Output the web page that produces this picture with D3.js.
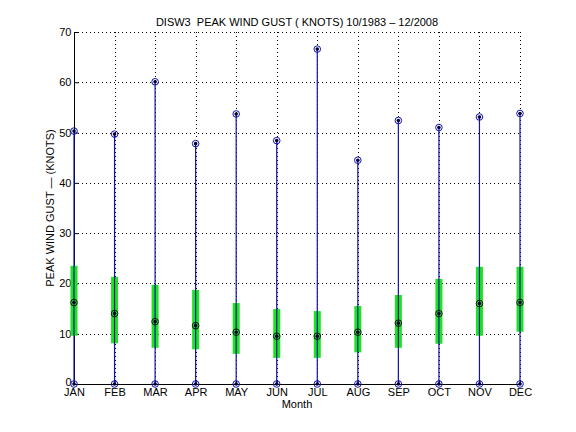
<!DOCTYPE html>
<html>
<head>
<meta charset="utf-8">
<script src="https://cdn.jsdelivr.net/npm/d3@7"></script>
<style>
  html, body { margin: 0; padding: 0; background: #fff; }
  svg { display: block; font-family: "Liberation Sans", Arial, sans-serif; }
</style>
</head>
<body>
<svg id="chart" width="576" height="432"></svg>
<script>
// monthly peak gust statistics, knots
var months = ["JAN", "FEB", "MAR", "APR", "MAY", "JUN", "JUL", "AUG", "SEP", "OCT", "NOV", "DEC"];
var gustMax = [50.3, 49.7, 60.1, 47.8, 53.7, 48.4, 66.6, 44.5, 52.4, 51.0, 53.1, 53.8];
var gustMin = [0, 0, 0, 0, 0, 0, 0, 0, 0, 0, 0, 0];
var gustMean = [16.2, 14.0, 12.4, 11.6, 10.3, 9.5, 9.5, 10.3, 12.1, 14.0, 16.0, 16.2];
var bandHigh = [23.5, 21.3, 19.7, 18.7, 16.1, 14.9, 14.5, 15.5, 17.7, 20.9, 23.3, 23.3];
var bandLow = [9.6, 8.1, 7.2, 6.9, 6.0, 5.2, 5.2, 6.3, 7.2, 8.0, 9.6, 10.4];
var yTicks = [0, 10, 20, 30, 40, 50, 60, 70];

(function () {
    "use strict";

    var svg = d3.select("#chart");
    var left = 74, right = 520, top = 32, bottom = 384;
    var blue = "#1212b0";

    var x = d3.scaleLinear().domain([1, 12]).range([left, right]);
    var y = d3.scaleLinear().domain([0, 70]).range([bottom, top]);
    var idx = d3.range(months.length);

    // dotted grid
    var grid = svg.append("g")
        .attr("stroke", "#000")
        .attr("stroke-width", 1)
        .attr("stroke-dasharray", "1,3");
    grid.selectAll("line.gy")
        .data(yTicks.slice(1))
        .join("line")
        .attr("x1", left).attr("x2", right)
        .attr("y1", function (d) { return Math.round(y(d)) + 0.5; })
        .attr("y2", function (d) { return Math.round(y(d)) + 0.5; });
    grid.selectAll("line.gx")
        .data(idx.slice(1))
        .join("line")
        .attr("x1", function (i) { return Math.round(x(i + 1)) + 0.5; })
        .attr("x2", function (i) { return Math.round(x(i + 1)) + 0.5; })
        .attr("y1", top).attr("y2", bottom);

    // axes (solid, left and bottom only)
    var yAxis = d3.axisLeft(y).tickValues(yTicks).tickSize(-4).tickPadding(3);
    var xAxis = d3.axisBottom(x).tickValues(idx.map(function (i) { return i + 1; }))
        .tickFormat(function (d) { return months[d - 1]; })
        .tickSize(-4).tickPadding(4);

    var gy = svg.append("g").attr("transform", "translate(" + (left + 0.5) + ",0)").call(yAxis);
    var gx = svg.append("g").attr("transform", "translate(0," + (bottom + 0.5) + ")").call(xAxis);
    [gy, gx].forEach(function (g) {
        g.select(".domain").attr("stroke", "#000");
        g.selectAll(".tick line").attr("stroke", "#000");
        g.selectAll("text").attr("fill", "#000").style("font-size", "11px")
            .style("font-family", "'Liberation Sans', Arial, sans-serif");
    });
    gy.select(".domain").attr("d", "M0," + bottom + "V" + top);
    gx.select(".domain").attr("d", "M" + left + ",0H" + right);
    // lift the zero label a touch so it clears JAN
    gy.selectAll(".tick text").filter(function (d) { return d === 0; }).attr("dy", "0.1em");

    // green band
    svg.append("g").selectAll("rect")
        .data(idx)
        .join("rect")
        .attr("x", function (i) { return x(i + 1) - 3.5; })
        .attr("width", 7)
        .attr("y", function (i) { return y(bandHigh[i]); })
        .attr("height", function (i) { return y(bandLow[i]) - y(bandHigh[i]); })
        .attr("fill", "#1ee41e");

    // min-max stems
    svg.append("g").selectAll("line")
        .data(idx)
        .join("line")
        .attr("x1", function (i) { return x(i + 1); })
        .attr("x2", function (i) { return x(i + 1); })
        .attr("y1", function (i) { return y(gustMin[i]); })
        .attr("y2", function (i) { return y(gustMax[i]); })
        .attr("stroke", blue)
        .attr("stroke-width", 1.2);

    function markers(values, colour) {
        var g = svg.append("g");
        g.selectAll("circle.ring")
            .data(idx)
            .join("circle")
            .attr("cx", function (i) { return x(i + 1); })
            .attr("cy", function (i) { return y(values[i]); })
            .attr("r", 3.3)
            .attr("fill", "none")
            .attr("stroke", colour)
            .attr("stroke-width", 1);
        g.selectAll("circle.dot")
            .data(idx)
            .join("circle")
            .attr("cx", function (i) { return x(i + 1); })
            .attr("cy", function (i) { return y(values[i]); })
            .attr("r", 1.8)
            .attr("fill", "#000033");
    }
    markers(gustMax, blue);
    markers(gustMin, blue);
    markers(gustMean, "#111");

    // labels
    svg.append("text")
        .attr("x", (left + right) / 2)
        .attr("y", 26)
        .attr("text-anchor", "middle")
        .attr("xml:space", "preserve")
        .style("white-space", "pre")
        .style("font-size", "11px")
        .text("DISW3  PEAK WIND GUST ( KNOTS) 10/1983 \u2013 12/2008");

    svg.append("text")
        .attr("x", (left + right) / 2)
        .attr("y", 408)
        .attr("text-anchor", "middle")
        .style("font-size", "11px")
        .text("Month");

    svg.append("text")
        .attr("transform", "translate(54," + ((top + bottom) / 2) + ") rotate(-90)")
        .attr("text-anchor", "middle")
        .style("font-size", "11px")
        .text("PEAK WIND GUST \u2014 (KNOTS)");
})();
</script>
</body>
</html>
